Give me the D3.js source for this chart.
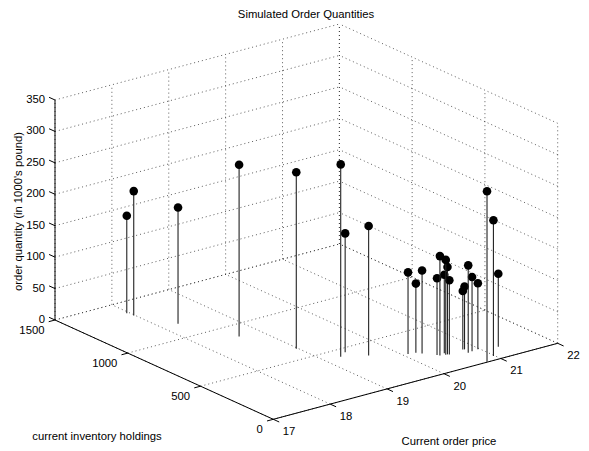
<!DOCTYPE html>
<html lang="en">
<head>
    <meta charset="UTF-8">
    <title>Simulated Order Quantities</title>
    <script src="https://cdn.jsdelivr.net/npm/d3@7"></script>
    <style>
        body { margin: 0; background: #fff; }
        text {
            font-family: "Liberation Sans", Arial, Helvetica, sans-serif;
            font-size: 11.3px;
            fill: #000;
        }
    </style>
</head>
<body>
    <svg width="589" height="451"></svg>
    <script>
        // stems: current order price, inventory holdings, order quantity
        const price = [17.96, 17.98, 18.27, 18.64, 18.97, 19.27, 19.43, 19.61,
            20.08, 20.20, 20.25, 20.38, 20.40, 20.48, 20.51, 20.50, 20.53,
            20.80, 20.82, 20.78, 20.86, 20.97, 21.26, 20.77, 20.98];
        const inventory = [1382, 1342, 1151, 876, 612, 424, 456, 365,
            278, 271, 248, 196, 184, 175, 175, 193, 170,
            183, 179, 138, 143, 146, 119, 5, 43];
        const quantity = [155, 198, 185, 273, 281, 306, 189, 206,
            130, 110, 132, 122, 158, 151, 139, 125, 118,
            93, 100, 139, 118, 105, 116, 271, 216];

        const priceTicks = [17, 18, 19, 20, 21, 22];
        const inventoryTicks = [0, 500, 1000, 1500];
        const quantityTicks = [0, 50, 100, 150, 200, 250, 300, 350];

        const svg = d3.select("svg");

        // projected box: origin corner and the three edge vectors (pixels)
        const origin = [273.3, 419.3];
        const xDir = [284.4, -76];
        const yDir = [-218.3, -99.3];
        const zDir = [0, -220];

        const xs = d3.scaleLinear().domain([17, 22]).range([0, 1]);
        const ys = d3.scaleLinear().domain([0, 1500]).range([0, 1]);
        const zs = d3.scaleLinear().domain([0, 350]).range([0, 1]);

        function proj(x, y, z) {
            const a = xs(x), b = ys(y), c = zs(z);
            return [origin[0] + a * xDir[0] + b * yDir[0] + c * zDir[0],
                    origin[1] + a * xDir[1] + b * yDir[1] + c * zDir[1]];
        }

        function unit(v, s) {
            const l = Math.hypot(v[0], v[1]);
            return [s * v[0] / l, s * v[1] / l];
        }

        // grid segments in data space
        const grid = [];
        // back wall y = 1500
        priceTicks.forEach(x => grid.push([[x, 1500, 0], [x, 1500, 350]]));
        quantityTicks.forEach(z => grid.push([[17, 1500, z], [22, 1500, z]]));
        // side wall x = 22
        inventoryTicks.forEach(y => grid.push([[22, y, 0], [22, y, 350]]));
        quantityTicks.forEach(z => grid.push([[22, 0, z], [22, 1500, z]]));
        // floor z = 0
        priceTicks.forEach(x => grid.push([[x, 0, 0], [x, 1500, 0]]));
        inventoryTicks.forEach(y => grid.push([[17, y, 0], [22, y, 0]]));

        svg.append("g").attr("class", "grid")
            .selectAll("line")
            .data(grid)
            .enter()
            .append("line")
            .attr("x1", d => proj(...d[0])[0])
            .attr("y1", d => proj(...d[0])[1])
            .attr("x2", d => proj(...d[1])[0])
            .attr("y2", d => proj(...d[1])[1])
            .attr("stroke", "#333")
            .attr("stroke-width", 0.8)
            .attr("stroke-dasharray", "1,3");

        // axis lines
        const axes = [
            [[17, 0, 0], [22, 0, 0]],
            [[17, 0, 0], [17, 1500, 0]],
            [[17, 1500, 0], [17, 1500, 350]]
        ];
        const axisG = svg.append("g").attr("class", "axes");
        axisG.selectAll("line.axis")
            .data(axes)
            .enter()
            .append("line")
            .attr("class", "axis")
            .attr("x1", d => proj(...d[0])[0])
            .attr("y1", d => proj(...d[0])[1])
            .attr("x2", d => proj(...d[1])[0])
            .attr("y2", d => proj(...d[1])[1])
            .attr("stroke", "#000")
            .attr("stroke-width", 1);

        const tickLen = 6.5;
        const xTickDir = unit([-yDir[0], -yDir[1]], tickLen);
        const yTickDir = unit([-xDir[0], -xDir[1]], tickLen);
        const zTickDir = unit(yDir, tickLen);

        function ticks(values, toPoint, dir, cls) {
            axisG.selectAll("line." + cls)
                .data(values)
                .enter()
                .append("line")
                .attr("class", cls)
                .attr("x1", d => toPoint(d)[0])
                .attr("y1", d => toPoint(d)[1])
                .attr("x2", d => toPoint(d)[0] + dir[0])
                .attr("y2", d => toPoint(d)[1] + dir[1])
                .attr("stroke", "#000")
                .attr("stroke-width", 1);
        }
        ticks(priceTicks, d => proj(d, 0, 0), xTickDir, "xt");
        ticks(inventoryTicks, d => proj(17, d, 0), yTickDir, "yt");
        ticks(quantityTicks, d => proj(17, 1500, d), zTickDir, "zt");

        // tick labels
        axisG.selectAll("text.xl")
            .data(priceTicks)
            .enter()
            .append("text")
            .attr("class", "xl")
            .attr("x", d => proj(d, 0, 0)[0] + 9.5)
            .attr("y", d => proj(d, 0, 0)[1] + 12)
            .attr("dy", "0.35em")
            .text(d => d);

        axisG.selectAll("text.yl")
            .data(inventoryTicks)
            .enter()
            .append("text")
            .attr("class", "yl")
            .attr("x", d => proj(17, d, 0)[0] - 10.5)
            .attr("y", d => proj(17, d, 0)[1] + 10)
            .attr("dy", "0.35em")
            .attr("text-anchor", "end")
            .text(d => d);

        axisG.selectAll("text.zl")
            .data(quantityTicks)
            .enter()
            .append("text")
            .attr("class", "zl")
            .attr("x", d => proj(17, 1500, d)[0] - 10)
            .attr("y", d => proj(17, 1500, d)[1] - 1)
            .attr("dy", "0.35em")
            .attr("text-anchor", "end")
            .text(d => d);

        // stems, back ones first
        const points = price.map((p, i) => ({ x: p, y: inventory[i], z: quantity[i] }))
            .sort((a, b) => proj(a.x, a.y, 0)[1] - proj(b.x, b.y, 0)[1]);

        const stems = svg.append("g").attr("class", "stems")
            .selectAll("g")
            .data(points)
            .enter()
            .append("g");

        stems.append("line")
            .attr("x1", d => proj(d.x, d.y, 0)[0])
            .attr("y1", d => proj(d.x, d.y, 0)[1])
            .attr("x2", d => proj(d.x, d.y, d.z)[0])
            .attr("y2", d => proj(d.x, d.y, d.z)[1])
            .attr("stroke", "#222")
            .attr("stroke-width", 1.1);

        stems.append("circle")
            .attr("cx", d => proj(d.x, d.y, d.z)[0])
            .attr("cy", d => proj(d.x, d.y, d.z)[1])
            .attr("r", 4.3)
            .attr("fill", "#000");

        // titles
        svg.append("text")
            .attr("x", 306)
            .attr("y", 14)
            .attr("dy", "0.35em")
            .attr("text-anchor", "middle")
            .text("Simulated Order Quantities");

        svg.append("text")
            .attr("x", 449)
            .attr("y", 441)
            .attr("dy", "0.35em")
            .attr("text-anchor", "middle")
            .text("Current order price");

        svg.append("text")
            .attr("x", 97)
            .attr("y", 436)
            .attr("dy", "0.35em")
            .attr("text-anchor", "middle")
            .text("current inventory holdings");

        svg.append("text")
            .attr("transform", "translate(18,211.5) rotate(-90)")
            .attr("dy", "0.35em")
            .attr("text-anchor", "middle")
            .text("order quantity (in 1000's pound)");
    </script>
</body>
</html>
